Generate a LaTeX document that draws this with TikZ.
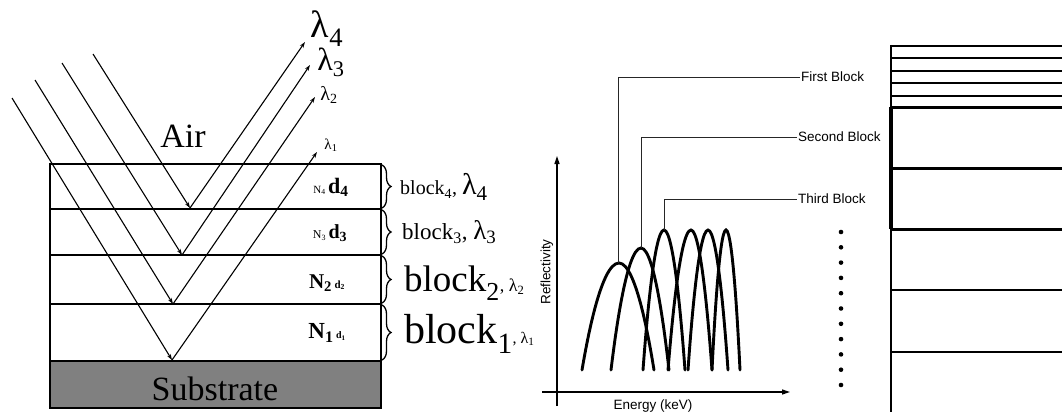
\documentclass[tikz,border=0pt]{standalone}
\usepackage{fontspec}
\setmainfont{Liberation Serif}
\setsansfont{Liberation Sans}
\usepackage{tikz}
\usetikzlibrary{arrows.meta,decorations.pathreplacing}
\definecolor{cSub}{HTML}{808080}
\newcommand{\fsz}[1]{\fontsize{#1}{#1}\selectfont}
\tikzset{layer/.style={line width=1.7pt},
  ray/.style={line width=1.1pt,-{Stealth[length=6pt,width=4pt]}},
  arch/.style={line width=2.9pt,line cap=round},
  lead/.style={line width=1pt,black!85},
  blab/.style={font=\sffamily\fsz{13.5},anchor=west,inner sep=1pt},
  brc/.style={line width=1.3pt,decorate,decoration={brace,amplitude=9pt}}}

\begin{document}
\begin{tikzpicture}[x=1pt,y=-1pt]
  \useasboundingbox (0,0) rectangle (1062,412);
  % multilayer stack
  \fill[cSub] (50,361) rectangle (381,408);
  \draw[layer] (50,164) rectangle (381,408);
  \foreach \y in {209,255,304,361} \draw[layer] (50,\y) -- (381,\y);
  \node[font=\fsz{34},anchor=base] (sub) at (215,400) {Substrate};
  \node[font=\fsz{34},anchor=base] (air) at (183,147) {Air};
  % incoming and reflected rays
  \foreach \i/\sx/\sy/\vx/\vy/\ex/\ey in {1/12/98/172/360/317/152,2/35/80/173/304/315/97,
      3/62/63/182/255/310/65,4/93/54/190/208/305/42}{
    \coordinate (s\i) at (\sx,\sy);
    \coordinate (v\i) at (\vx,\vy);
    \coordinate (e\i) at (\ex,\ey);
    \draw[ray] (s\i) -- (v\i);
    \draw[ray] (v\i) -- (e\i);
  }
  \node[font=\fsz{38}] (la4) at (327,29) {λ\textsubscript{4}};
  \node[font=\fsz{32}] (la3) at (331,62) {λ\textsubscript{3}};
  \node[font=\fsz{20}] (la2) at (329,95) {λ\textsubscript{2}};
  \node[font=\fsz{15}] (la1) at (331,145) {λ\textsubscript{1}};
  % layer labels
  \node (nd4) at (331,187) {{\fsz{11}N\textsubscript{4}} {\fsz{22}\bfseries d\textsubscript{4}}};
  \node (nd3) at (330,233) {{\fsz{12}N\textsubscript{3}} {\fsz{20}\bfseries d\textsubscript{3}}};
  \node (nd2) at (327,283) {{\fsz{21}\bfseries N\textsubscript{2}} {\fsz{11}\bfseries d\textsubscript{2}}};
  \node (nd1) at (327,333) {{\fsz{23}\bfseries N\textsubscript{1}} {\fsz{10}\bfseries d\textsubscript{1}}};
  % braces
  \draw[brc] (382,165) -- (382,208);
  \draw[brc] (382,210) -- (382,254);
  \draw[brc] (382,256) -- (382,303);
  \draw[brc] (382,305) -- (382,360);
  \node[anchor=west,inner sep=0pt] (bl4) at (400,187) {{\fsz{20}block\textsubscript{4}, }{\fsz{30}λ\textsubscript{4}}};
  \node[anchor=west,inner sep=0pt] (bl3) at (402,232) {{\fsz{23}block\textsubscript{3}, }{\fsz{27}λ\textsubscript{3}}};
  \node[anchor=west,inner sep=0pt] (bl2) at (404,283) {{\fsz{37}block\textsubscript{2}}{\fsz{18}, λ\textsubscript{2}}};
  \node[anchor=west,inner sep=0pt] (bl1) at (404,334) {{\fsz{42}block\textsubscript{1}}{\fsz{16}, λ\textsubscript{1}}};
  % reflectivity plot
  \draw[line width=1.3pt,-{Triangle[length=8pt,width=5pt]}] (557,406) -- (557,156);
  \draw[line width=1.3pt,-{Triangle[length=8pt,width=5pt]}] (542,392) -- (790,392);
  \node[font=\sffamily\fsz{13.5}] (xlab) at (653,406) {Energy (keV)};
  \node[font=\sffamily\fsz{13.5},rotate=90] (ylab) at (547,272) {Reflectivity};
  \foreach \a/\p/\h/\b in {582/619/263/654,611/641/248/669,643/664/230/685,
      668/691/230/712,688/708/230/728,712/726/230/740}
    \draw[arch] (\a,370) parabola bend (\p,\h) (\b,370);
  \coordinate (pk1) at (618,263);
  \coordinate (pk2) at (641,248);
  \coordinate (pk3) at (664,230);
  \node[blab] (first) at (800,77) {First Block};
  \node[blab] (second) at (797,137) {Second Block};
  \node[blab] (third) at (797,199) {Third Block};
  \draw[lead] (pk1) |- (first.west);
  \draw[lead] (pk2) |- (second.west);
  \draw[lead] (pk3) |- (third.west);
  \foreach \k in {0,...,10} \fill ({841},{232+15.3*\k}) circle (2.3);
  % block stack on the right
  \draw[line width=2.4pt] (891,46) -- (1062,46);
  \foreach \y in {58,71,83,96} \draw[line width=1.2pt] (891,\y) -- (1062,\y);
  \foreach \y in {107,168,229} \draw[line width=3pt] (891,\y) -- (1062,\y);
  \foreach \y in {290,352} \draw[line width=2.2pt] (891,\y) -- (1062,\y);
  \draw[line width=2.2pt] (891,45) -- (891,412);
  \draw[line width=3.6pt] (891,107) -- (891,229);
\end{tikzpicture}
\end{document}
